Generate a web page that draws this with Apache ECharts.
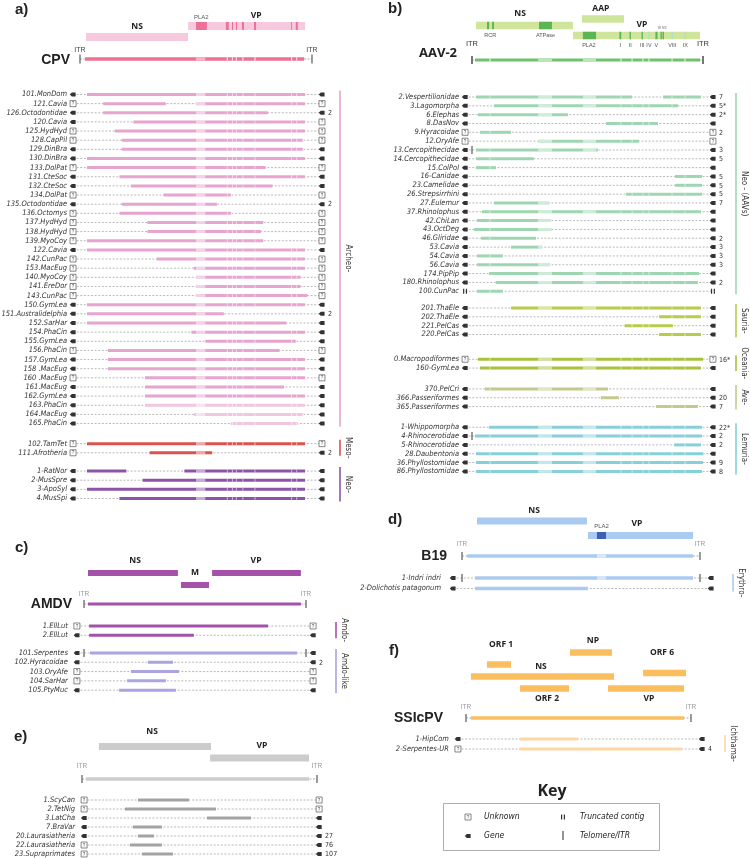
<!DOCTYPE html>
<html><head><meta charset="utf-8">
<script src="https://cdn.jsdelivr.net/npm/echarts@6/dist/echarts.min.js"></script>
<style>html,body{margin:0;padding:0;background:#fff}#c{width:750px;height:859px}</style>
</head><body><div id="c"></div>
<script>
// ===================== DATA =====================
// Genome positions are in % of the reference genome (ITR to ITR = 0..100)
// ---- a) CPV ----
const cpvGenes = ['NS', 'VP'];
const cpvGeneStart = [2.6, 46.6];
const cpvGeneEnd = [46.6, 97.0];
const cpvMotif = ['PLA2', '', '', '', '', '', '', ''];
const cpvMotifStart = [50.0, 62.9, 65.5, 67.2, 69.8, 75.0, 91.0, 93.0];
const cpvMotifEnd = [54.7, 64.1, 66.0, 67.7, 70.7, 75.9, 91.4, 93.9];
const cpvGenome = [2.2, 96.6];
const aNames = ['101.MonDom','121.Cavia','126.Octodontidae','120.Cavia','125.HydHyd','128.CapPil','129.DinBra','130.DinBra','133.DolPat','131.CteSoc','132.CteSoc','134.DolPat','135.Octodontidae','136.Octomys','137.HydHyd','138.HydHyd','139.MyoCoy','122.Cavia','142.CunPac','153.MacEug','140.MyoCoy','141.EreDor','143.CunPac','150.GymLea','151.Australidelphia','152.SarHar','154.PhaCin','155.GymLea','156.PhaCin','157.GymLea','158 .MacEug','160 .MacEug','161.MacEug','162.GymLea','163.PhaCin','164.MacEug','165.PhaCin','102.TamTet','111.Afrotheria','1-RatNor','2-MusSpre','3-ApoSyl','4.MusSpi'];
const aSegs = [[[3,97]],[[10,37],[50,97]],[[10,81]],[[23,97]],[[15,97]],[[18,96]],[[18,96]],[[3,97]],[[3,80]],[[17,97]],[[22,83]],[[36,65]],[[18,59]],[[17,65]],[[29,79]],[[29,78]],[[3,79]],[[3,97]],[[33,97]],[[49,97]],[[50,95]],[[50,95]],[[50,98]],[[3,97]],[[3,62]],[[3,89]],[[48,97]],[[54,93]],[[12,86]],[[12,97]],[[12,97]],[[28,97]],[[28,88]],[[28,97]],[[28,97]],[[49,96]],[[65,94]],[[3,97]],[[30,57]],[[3,20],[45,97]],[[27,97]],[[3,97]],[[17,97]]];
const aEnds = ['G G','U U','G G','G U','U U','U U','G G','G G','U U','G G','G G','U U','G G','U U','U U','U U','U U','G G','U U','U U','U U','U U','U U','G G','G G','G G','G G','G G','U U','G G','G G','U U','G G','G G','G G','G G','G G','U U','U G','G G','G G','G G','G G'];
const aCount = ['','','2','','','','','','','','','','2','','','','','','','','','','','','2','','','','','','','','','','','','','','2','','','',''];
const aFaint = ['163.PhaCin','164.MacEug','165.PhaCin'];
const aGroups = ['Archeo-', 'Meso-', 'Neo-'];
const aGroupSize = [37, 2, 4];

// ---- b) AAV-2 ----
const aavGenes = ['NS', 'AAP', 'VP'];
const aavGeneStart = [1.7, 47.6, 43.7];
const aavGeneEnd = [43.7, 65.8, 98.7];
const aavMotif = ['RCR','RCR','ATPase','PLA2','I','II','III','IV','V','VI','VII','VIII','IX'];
const aavMotifGene = [0,0,0,2,2,2,2,2,2,2,2,2,2];
const aavMotifStart = [6.5, 8.7, 29.0, 48.0, 63.8, 68.2, 73.4, 76.3, 79.4, 81.6, 82.5, 86.4, 92.0];
const aavMotifEnd = [7.4, 9.5, 34.6, 53.7, 64.6, 68.8, 74.0, 76.9, 80.3, 82.2, 83.1, 87.0, 92.6];
const aavGenome = [1.3, 98.7];
const bNames = ['2.Vespertilionidae','3.Lagomorpha','6.Elephas','8.DasNov','9.Hyracoidae','12.OryAfe','13.Cercopithecidae','14.Cercopithecidae','15.ColPol','16-Canidae','23.Camelidae','26.Strepsirrhini','27.Eulemur','37.Rhinolophus','42.ChiLan','43.OctDeg','46.Gliridae','53.Cavia','54.Cavia','56.Cavia','174.PipPip','180.Rhinolophus','100.CunPac','201.ThaEle','202.ThaEle','221.PelCas','220.PelCas','0.Macropodiformes','160-GymLea','370.PelCri','366.Passeriformes','365.Passeriformes','1-Whippomorpha','4-Rhinocerotidae','5-Rhinocerotidae','28.Daubentonia','36.Phyllostomidae','86.Phyllostomidae'];
const bSegs = [[[1.7,69.3],[82.7,99.1]],[[9.5,89.2]],[[2.6,41.6]],[[58,80.5]],[[3.5,16.9]],[[28.6,72.3]],[[1.7,54.5]],[[1.7,26.8]],[[1.7,10.4]],[[87.9,99.6]],[[87.9,99.6]],[[66.7,99.6]],[[9.5,33.3]],[[4.3,99.1]],[[2.2,34.2]],[[0.9,34.6]],[[3.9,27.7]],[[16.9,30.3]],[[2.2,13.4]],[[2.2,33.8]],[[7.4,98.3]],[[10.4,97.8]],[[2.2,13.4]],[[16.9,99.1]],[[81,99.1]],[[66.2,87]],[[81,99.1]],[[2.6,100]],[[3.5,99.1]],[[5.6,58.9]],[[55.8,63.6]],[[79.7,97.8]],[[7.4,99.6]],[[1.3,99.6]],[[87.5,99.1]],[[1.7,100]],[[1.7,100]],[[1.7,99.6]]];
const bEnds = ['G G','G G','G G','G G','U U','U U','GI G','G G','G G','G G','G G','G G','G G','G G','G G','G G','G G','G G','G G','G G','G G','G G','T T','G G','G G','G G','G G','U U','G G','G G','G G','G G','G G','GI G','G G','G G','G G','G G'];
const bCount = ['7','5*','2*','','2','','3','5','','5','5','5','7','','','','2','3','3','3','','2','','','','','','16*','','','20','7','22*','2','2','','9','8'];
const bGroups = ['Neo - (AAVs)', 'Sauria-', 'Oceania-', 'Ave-', 'Lemuria-'];
const bGroupSize = [23, 4, 2, 3, 6];

// ---- c) AMDV ----
const amdvGenes = ['NS', 'VP', 'M'];
const amdvGeneStart = [1.8, 57.7, 43.7];
const amdvGeneEnd = [42.3, 97.7, 56.3];
const amdvGenome = [1.8, 97.7];
const cNames = ['1.EllLut','2.EllLut','101.Serpentes','102.Hyracoidae','103.OryAfe','104.SarHar','105.PtyMuc'];
const cSegs = [[[2.3,82.9]],[[2.3,49.5]],[[2.7,95.9]],[[28.8,40.1]],[[21.2,42.8]],[[19.4,36.9]],[[15.8,41.4]]];
const cEnds = ['U U','G G','GI IG','G G','U U','U U','G G'];
const cCount = ['','','','2','','',''];
const cGroups = ['Amdo-', 'Amdo-like'];
const cGroupSize = [2, 5];

// ---- d) B19 ----
const b19Genes = ['NS', 'VP'];
const b19GeneStart = [6.3, 52.9];
const b19GeneEnd = [52.5, 97.1];
const b19MotifStart = [56.7];
const b19MotifEnd = [60.5];
const b19Genome = [2.1, 97.1];
const dNames = ['1-Indri indri', '2-Dolichotis patagonum'];
const dSegs = [[[5.5,97.1]], [[5.5,52.9]]];
const dEnds = ['GI IG', 'G G'];
const dCount = ['', ''];
const dGroups = ['Erythro-'];
const dGroupSize = [2];

// ---- e) ----
const eGenes = ['NS', 'VP'];
const eGeneStart = [7.2, 54.5];
const eGeneEnd = [54.9, 96.6];
const eGenome = [1.7, 96.6];
const eNames = ['1.ScyCan','2.TetNig','3.LatCha','7.BraVar','20.Laurasiatheria','22.Laurasiatheria','23.Supraprimates'];
const eSegs = [[[23.8,45.5]],[[18.3,57]],[[53.2,71.9]],[[21.7,34]],[[23.8,30.6]],[[20.4,34]],[[25.5,38.7]]];
const eEnds = ['U U','U U','G G','G G','G G','U G','U G'];
const eCount = ['','','','','27','76','107'];
const eGroupSize = [7];

// ---- f) SSIcPV ----
const fGenes = ['ORF 1', 'NP', 'ORF 6', 'NS', 'ORF 2', 'VP'];
const fGeneStart = [9.3, 46.2, 78.7, 2.2, 24.0, 63.1];
const fGeneEnd = [20.0, 64.9, 97.8, 65.8, 45.8, 96.9];
const fGenome = [2.2, 96.9];
const fNames = ['1-HipCom', '2-Serpentes-UR'];
const fSegs = [[[24,49.8]], [[23.6,96]]];
const fEnds = ['G G', 'U G'];
const fCount = ['', '4'];
const fGroups = ['Ichthama-'];
const fGroupSize = [2];

// ===================== LAYOUT & STYLE =====================
const FONT = "'Liberation Sans Narrow','DejaVu Sans Condensed',Roboto,sans-serif";
const BFONT = "'Open Sans','Noto Sans',sans-serif";
const NFONT = "'Liberation Sans',Arial,sans-serif";

function positions(sizes, gaps) {
  const pos = [], grp = []; let p = 0;
  sizes.forEach((n, g) => {
    if (g > 0) p += 1 + gaps[g];
    for (let k = 0; k < n; k++) { pos.push(p + k); grp.push(g); }
    p += n - 1;
  });
  return { pos, grp };
}

const panels = [];
function panel(cfg) {
  const pg = positions(cfg.groupSize, cfg.gaps);
  cfg.pos = pg.pos; cfg.grp = pg.grp;
  cfg.maxPos = Math.max(1, pg.pos[pg.pos.length - 1]);
  panels.push(cfg);
}

// header helpers (X maps genome % to px)
function box(X, s, e, y, h, fill) { return { type: 'rect', shape: { x: X(s), y: y - h / 2, width: X(e) - X(s), height: h }, style: { fill } }; }
function txt(x, y, t, font, fill, align) {
  return { type: 'text', style: { text: t, x, y, font, fill: fill || '#222', align: align || 'center', verticalAlign: 'middle', textAlign: align || 'center', textVerticalAlign: 'middle' } };
}
function itrTick(x, y, h, w, col) { return { type: 'rect', shape: { x: x - w / 2, y: y - h / 2, width: w, height: h }, style: { fill: col || '#666' } }; }
function genomeLine(X, g, y, h, fill, light, lightFill, gaps) {
  const out = [];
  out.push({ type: 'line', shape: { x1: X(0), y1: y, x2: X(100), y2: y }, style: { stroke: '#888', lineWidth: 0.7, lineDash: [2, 1.5] } });
  out.push(box(X, g[0], g[1], y, h, fill));
  (light || []).forEach(z => out.push(box(X, z[0], z[1], y, h, lightFill)));
  (gaps || []).forEach(u => out.push({ type: 'rect', shape: { x: X(u) - 0.6, y: y - h / 2, width: 1.2, height: h }, style: { fill: 'rgba(255,255,255,0.75)' } }));
  return out;
}

panel({
  key: 'a', left: 80, right: 312, top: 94.5, sp: 9.14, gaps: [0, 1.2, 1.0], mL: -3, mR: 104.3, labelGap: 9, bh: 3,
  names: aNames, segs: aSegs, ends: aEnds, count: aCount, groupSize: aGroupSize, groups: aGroups,
  faint: aFaint, faintColor: '#f1c6df',
  colors: ['#e7a4cf', '#d9534f', '#8d53a8'], gx: 340,
  light: [[50, 54]], stripes: [63.5, 65.7, 67.4, 70.2, 75.4, 91.2, 93.4],
  header: X => {
    const o = [];
    const gy = [37, 26];
    cpvGenes.forEach((n, i) => o.push(box(X, cpvGeneStart[i], cpvGeneEnd[i], gy[i], 8, '#f7c9df')));
    cpvMotifStart.forEach((s, i) => o.push(box(X, s, cpvMotifEnd[i], 26, 8, '#ee7097')));
    o.push(txt(X(24.6), 27, cpvGenes[0], 'bold 8.5px ' + BFONT));
    o.push(txt(X(75.9), 16, cpvGenes[1], 'bold 8.5px ' + BFONT));
    o.push(txt(X(52.3), 17, cpvMotif[0], '6px ' + NFONT, '#555'));
    o.push(...genomeLine(X, cpvGenome, 59, 3.5, '#ee6f90', [[50, 54]], '#f6b2c6', [63.5, 65.7, 67.4, 70.2, 75.4, 91.2, 93.4]));
    o.push(itrTick(X(0), 59, 9, 1.3), itrTick(X(100), 59, 9, 1.3));
    o.push(txt(X(0), 50, 'ITR', '7px ' + NFONT, '#444'), txt(X(100), 50, 'ITR', '7px ' + NFONT, '#444'));
    o.push(txt(X(0) - 10, 60, 'CPV', 'bold 14px ' + NFONT, '#222', 'right'));
    return o;
  }
});

panel({
  key: 'b', left: 472, right: 703, top: 97, sp: 8.83, gaps: [0, 0.9, 1.8, 1.36, 1.34], mL: -3, mR: 104.3, labelGap: 9, bh: 3,
  names: bNames, segs: bSegs, ends: bEnds, count: bCount, groupSize: bGroupSize, groups: bGroups,
  colors: ['#9fd6b2', '#b6cd4c', '#a7c23b', '#c5c98f', '#87d0d9'], gx: 736,
  light: [[28.6, 34.6], [48, 53.7]], stripes: [7.8, 64.5, 69.3, 74, 76.6, 86.6, 92.2],
  header: X => {
    const o = [];
    const gy = [25.5, 19, 35.5];
    aavGenes.forEach((n, i) => o.push(box(X, aavGeneStart[i], aavGeneEnd[i], gy[i], 7.5, '#cfe59c')));
    aavMotifStart.forEach((s, i) => {
      const lightM = ['IV', 'VIII', 'IX'].includes(aavMotif[i]);
      o.push(box(X, s, aavMotifEnd[i], gy[aavMotifGene[i]], 7.5, lightM ? '#b2dfc6' : '#5cb553'));
    });
    o.push(txt(X(20.8), 14, aavGenes[0], 'bold 8.5px ' + BFONT));
    o.push(txt(X(55.8), 9, aavGenes[1], 'bold 8.5px ' + BFONT));
    o.push(txt(X(73.6), 25, aavGenes[2], 'bold 8.5px ' + BFONT));
    o.push(txt(X(7.9), 35, 'RCR', '5.5px ' + NFONT, '#555'));
    o.push(txt(X(31.8), 35, 'ATPase', '5.5px ' + NFONT, '#555'));
    o.push(txt(X(50.6), 45, 'PLA2', '5.5px ' + NFONT, '#555'));
    aavMotif.forEach((m, i) => {
      if (i >= 4 && m !== 'VI' && m !== 'VII') o.push(txt(X((aavMotifStart[i] + aavMotifEnd[i]) / 2), 45, m, '5.5px ' + NFONT, '#555'));
    });
    o.push(txt(X(82.3), 28, 'VI VII', '3.5px ' + NFONT, '#555'));
    o.push(...genomeLine(X, aavGenome, 60, 3, '#6cc46a', [[28.6, 34.6], [48, 53.7]], '#bfe4bd', [7.8, 64.5, 69.3, 74, 76.6, 86.6, 92.2]));
    o.push(itrTick(X(0), 60, 8, 2, '#777'), itrTick(X(100), 60, 8, 2, '#777'));
    o.push(txt(X(0), 44, 'ITR', '7.5px ' + NFONT, '#333'), txt(X(100), 44, 'ITR', '7.5px ' + NFONT, '#333'));
    o.push(txt(457, 53, 'AAV-2', 'bold 13px ' + BFONT, '#222', 'right'));
    return o;
  }
});

panel({
  key: 'c', left: 84, right: 306, top: 626, sp: 9.3, gaps: [0, 0.9], mL: -3.2, mR: 103.2, labelGap: 12, bh: 3,
  names: cNames, segs: cSegs, ends: cEnds, count: cCount, groupSize: cGroupSize, groups: cGroups,
  colors: ['#a452a9', '#aaa4e3'], gx: 336,
  header: X => {
    const o = [];
    const gy = [573, 573, 585];
    amdvGenes.forEach((n, i) => o.push(box(X, amdvGeneStart[i], amdvGeneEnd[i], gy[i], 6, '#a452a9')));
    o.push(txt(X(23), 561, amdvGenes[0], 'bold 8.5px ' + BFONT));
    o.push(txt(X(77.5), 561, amdvGenes[1], 'bold 8.5px ' + BFONT));
    o.push(txt(X(50), 573, amdvGenes[2], 'bold 8.5px ' + BFONT));
    o.push(...genomeLine(X, amdvGenome, 604, 3, '#a452a9'));
    o.push(itrTick(X(0), 604, 8, 1.3), itrTick(X(100), 604, 8, 1.3));
    o.push(txt(X(0), 594, 'ITR', '6.5px ' + NFONT, '#999'), txt(X(100), 594, 'ITR', '6.5px ' + NFONT, '#999'));
    o.push(txt(72, 604, 'AMDV', 'bold 14px ' + NFONT, '#222', 'right'));
    return o;
  }
});

panel({
  key: 'd', left: 462, right: 700, top: 578, sp: 10.5, gaps: [0], mL: -3.8, mR: 104.6, labelGap: 15, bh: 3.5,
  names: dNames, segs: dSegs, ends: dEnds, count: dCount, groupSize: dGroupSize, groups: dGroups,
  colors: ['#aacbef'], gx: 733, light: [[56.7, 60.5]],
  header: X => {
    const o = [];
    const gy = [521, 535.5];
    b19Genes.forEach((n, i) => o.push(box(X, b19GeneStart[i], b19GeneEnd[i], gy[i], 7, '#aacbef')));
    o.push(box(X, b19MotifStart[0], b19MotifEnd[0], 535.5, 7, '#3f5fb6'));
    o.push(txt(X(30.3), 511, b19Genes[0], 'bold 8.5px ' + BFONT));
    o.push(txt(X(73.5), 524, b19Genes[1], 'bold 8.5px ' + BFONT));
    o.push(txt(X(58.6), 526, 'PLA2', '6px ' + NFONT, '#555'));
    o.push(...genomeLine(X, b19Genome, 556, 3.5, '#aacbef', [[56.7, 60.5]], '#dbe8f7'));
    o.push(itrTick(X(0), 556, 8, 1.3), itrTick(X(100), 556, 8, 1.3));
    o.push(txt(X(0), 544, 'ITR', '6.5px ' + NFONT, '#999'), txt(X(100), 544, 'ITR', '6.5px ' + NFONT, '#999'));
    o.push(txt(447, 556, 'B19', 'bold 14px ' + NFONT, '#222', 'right'));
    return o;
  }
});

panel({
  key: 'e', left: 82, right: 317, top: 800, sp: 9, gaps: [0], mL: 0.9, mR: 100.9, labelGap: 12, bh: 3,
  names: eNames, segs: eSegs, ends: eEnds, count: eCount, groupSize: eGroupSize, groups: null,
  colors: ['#a3a3a3'],
  header: X => {
    const o = [];
    const gy = [746.5, 758];
    eGenes.forEach((n, i) => o.push(box(X, eGeneStart[i], eGeneEnd[i], gy[i], 7, '#cccccc')));
    o.push(txt(X(29.8), 732, eGenes[0], 'bold 8.5px ' + BFONT));
    o.push(txt(X(76.6), 746, eGenes[1], 'bold 8.5px ' + BFONT));
    o.push(...genomeLine(X, eGenome, 779, 3.5, '#cccccc'));
    o.push(itrTick(X(0), 779, 8, 1.3), itrTick(X(100), 779, 8, 1.3));
    o.push(txt(X(0), 766, 'ITR', '6.5px ' + NFONT, '#999'), txt(X(100), 766, 'ITR', '6.5px ' + NFONT, '#999'));
    return o;
  }
});

panel({
  key: 'f', left: 466, right: 691, top: 739, sp: 10, gaps: [0], mL: -3.6, mR: 104.9, labelGap: 12, bh: 3,
  names: fNames, segs: fSegs, ends: fEnds, count: fCount, groupSize: fGroupSize, groups: fGroups,
  colors: ['#fdd7a6'], gx: 725,
  header: X => {
    const o = [];
    const gy = [664.5, 652.5, 673, 676.5, 688.5, 688.5];
    const lx = [15.6, 56.4, 87.1, 33.3, 36, 81.3];
    const ly = [645, 641, 653, 667, 699, 699];
    fGenes.forEach((n, i) => {
      o.push(box(X, fGeneStart[i], fGeneEnd[i], gy[i], 6.5, '#fbbe5e'));
      o.push(txt(X(lx[i]), ly[i], n, 'bold 8.5px ' + BFONT));
    });
    o.push(...genomeLine(X, fGenome, 718, 3.5, '#fbbe5e'));
    o.push(itrTick(X(0), 718, 8, 1.3), itrTick(X(100), 718, 8, 1.3));
    o.push(txt(X(0), 707, 'ITR', '6.5px ' + NFONT, '#999'), txt(X(100), 707, 'ITR', '6.5px ' + NFONT, '#999'));
    o.push(txt(443, 718, 'SSIcPV', 'bold 14px ' + NFONT, '#222', 'right'));
    return o;
  }
});

// ===================== MARK SHAPES =====================
function gene(x, y) {
  return { type: 'polygon', shape: { points: [[x - 3.2, y], [x - 1.2, y - 2], [x + 2.6, y - 2], [x + 2.6, y + 2], [x - 1.2, y + 2]] }, style: { fill: '#333' } };
}
function unknown(x, y) {
  return [
    { type: 'rect', shape: { x: x - 3, y: y - 3, width: 6, height: 6 }, style: { fill: '#fff', stroke: '#555', lineWidth: 0.7 } },
    txt(x, y + 0.3, '?', '4.5px ' + NFONT, '#555')
  ];
}
function trunc(x, y) {
  return [
    { type: 'rect', shape: { x: x - 2, y: y - 2.5, width: 1.2, height: 5 }, style: { fill: '#333' } },
    { type: 'rect', shape: { x: x + 0.8, y: y - 2.5, width: 1.2, height: 5 }, style: { fill: '#333' } }
  ];
}
function addEnd(ch, code, x, y, xItr) {
  if (code.indexOf('I') >= 0) ch.push(itrTick(xItr, y, 8, 1.3, '#666'));
  if (code.indexOf('G') >= 0) ch.push(gene(x, y));
  else if (code.indexOf('U') >= 0) ch.push(...unknown(x, y));
  else if (code.indexOf('T') >= 0) ch.push(...trunc(x, y));
}

function rowRender(P) {
  return function (params, api) {
    const i = api.value(0);
    const pos = P.pos[i];
    const X = u => api.coord([u, pos])[0];
    const y = api.coord([0, pos])[1];
    const ch = [];
    const xl = X(P.mL), xr = X(P.mR);
    ch.push({ type: 'line', shape: { x1: xl, y1: y, x2: xr, y2: y }, style: { stroke: '#8a8a8a', lineWidth: 0.6, lineDash: [2, 1.6] } });
    let col = P.colors[P.grp[i]];
    if (P.faint && P.faint.indexOf(P.names[i]) >= 0) col = P.faintColor;
    P.segs[i].forEach(s => {
      const x1 = X(s[0]), x2 = X(s[1]);
      ch.push({ type: 'rect', shape: { x: x1, y: y - P.bh / 2, width: x2 - x1, height: P.bh }, style: { fill: col } });
      (P.light || []).forEach(z => {
        const a = Math.max(z[0], s[0]), b = Math.min(z[1], s[1]);
        if (b > a) ch.push({ type: 'rect', shape: { x: X(a), y: y - P.bh / 2, width: X(b) - X(a), height: P.bh }, style: { fill: 'rgba(255,255,255,0.5)' } });
      });
      (P.stripes || []).forEach(u => {
        if (u > s[0] + 0.5 && u < s[1] - 0.5) ch.push({ type: 'rect', shape: { x: X(u) - 0.5, y: y - P.bh / 2, width: 1, height: P.bh }, style: { fill: 'rgba(255,255,255,0.55)' } });
      });
    });
    const ends = P.ends[i].split(' ');
    addEnd(ch, ends[0], xl, y, X(0));
    addEnd(ch, ends[1], xr, y, X(100));
    ch.push(txt(xl - P.labelGap + 3, y, P.names[i], 'italic 7.5px ' + FONT, '#333', 'right'));
    if (P.count[i]) ch.push(txt(xr + 6, y + 0.5, P.count[i], '7px ' + FONT, '#333', 'left'));
    return { type: 'group', children: ch };
  };
}

function groupRender(P) {
  return function (params, api) {
    const g = api.value(0);
    const idx = P.grp.map((v, k) => v === g ? k : -1).filter(k => k >= 0);
    const y1 = api.coord([0, P.pos[idx[0]]])[1] - 4;
    const y2 = api.coord([0, P.pos[idx[idx.length - 1]]])[1] + 3;
    const col = P.colors[g];
    return {
      type: 'group', children: [
        { type: 'rect', shape: { x: P.gx - 0.8, y: y1, width: 1.6, height: y2 - y1 }, style: { fill: col } },
        { type: 'text', x: P.gx + 8.5, y: (y1 + y2) / 2, rotation: -Math.PI / 2,
          style: { text: P.groups[g], x: 0, y: 0, font: '8px ' + FONT, fill: '#333', align: 'center', verticalAlign: 'middle', textAlign: 'center', textVerticalAlign: 'middle' } }
      ]
    };
  };
}

function headerRender(P) {
  return function (params, api) {
    const X = u => api.coord([u, 0])[0];
    return { type: 'group', children: P.header(X) };
  };
}

// ===================== OPTION =====================
const grid = [], xAxis = [], yAxis = [], series = [];
panels.forEach((P, k) => {
  grid.push({ left: P.left, top: P.top, width: P.right - P.left, height: P.sp * P.maxPos });
  xAxis.push({ type: 'value', gridIndex: k, min: 0, max: 100, show: false });
  yAxis.push({ type: 'value', gridIndex: k, min: 0, max: P.maxPos, inverse: true, show: false });
  series.push({ type: 'custom', xAxisIndex: k, yAxisIndex: k, silent: true, data: [[0]], renderItem: headerRender(P) });
  series.push({ type: 'custom', xAxisIndex: k, yAxisIndex: k, silent: true, data: P.names.map((n, i) => [i]), renderItem: rowRender(P) });
  if (P.groups) series.push({ type: 'custom', xAxisIndex: k, yAxisIndex: k, silent: true, data: P.groups.map((n, i) => [i]), renderItem: groupRender(P) });
});

function gt(x, y, t, font, align) {
  return { type: 'text', x, y, style: { text: t, font, fill: '#222', align: align || 'left', verticalAlign: 'middle', textAlign: align || 'left', textVerticalAlign: 'middle' }, silent: true };
}
const graphic = [
  gt(15, 10, 'a)', 'bold 15px ' + NFONT),
  gt(388, 9, 'b)', 'bold 15px ' + NFONT),
  gt(15, 548, 'c)', 'bold 15px ' + NFONT),
  gt(388, 520, 'd)', 'bold 15px ' + NFONT),
  gt(14, 737, 'e)', 'bold 15px ' + NFONT),
  gt(389, 651, 'f)', 'bold 15px ' + NFONT),
  gt(552, 791, 'Key', 'bold 16px ' + BFONT, 'center'),
  { type: 'rect', shape: { x: 443.5, y: 803.5, width: 216, height: 47 }, style: { fill: 'none', stroke: '#999', lineWidth: 0.8 }, silent: true },
  { type: 'group', x: 468, y: 817, children: unknown(0, 0) },
  gt(484, 817, 'Unknown', 'italic 8.5px ' + FONT),
  { type: 'group', x: 563, y: 817, children: trunc(0, 0) },
  gt(580, 817, 'Truncated contig', 'italic 8.5px ' + FONT),
  { type: 'group', x: 468, y: 836, children: [gene(0, 0)] },
  gt(484, 836, 'Gene', 'italic 8.5px ' + FONT),
  { type: 'rect', shape: { x: 562.3, y: 831, width: 1.4, height: 9 }, style: { fill: '#666' }, silent: true },
  gt(580, 836, 'Telomere/ITR', 'italic 8.5px ' + FONT)
];

const chart = echarts.init(document.getElementById('c'), null, { renderer: 'canvas' });
chart.setOption({ animation: false, backgroundColor: '#fff', grid, xAxis, yAxis, series, graphic });
</script>
</body></html>
